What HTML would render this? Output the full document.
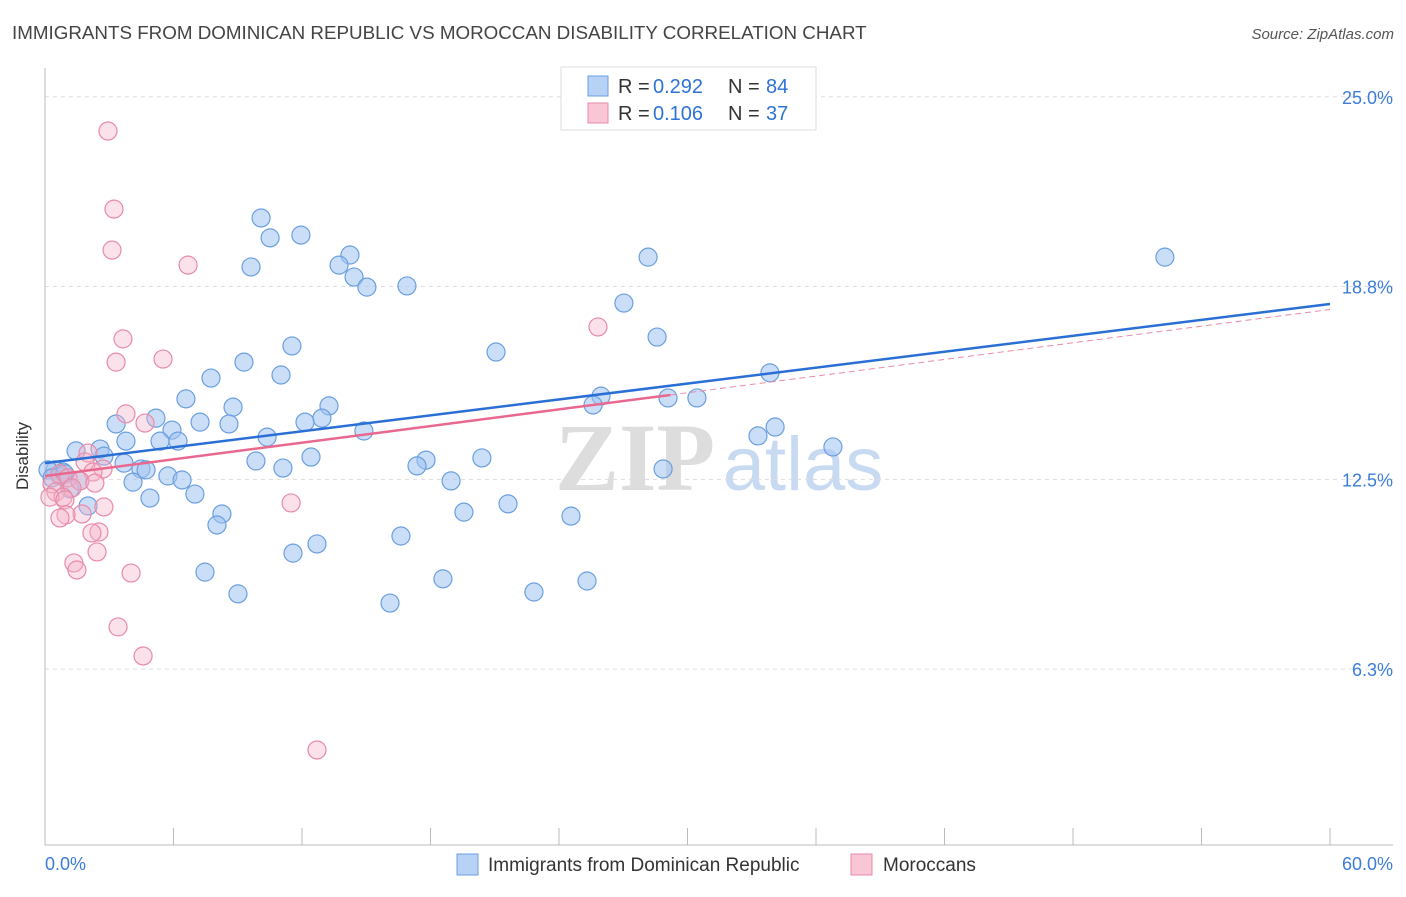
<!DOCTYPE html>
<html><head><meta charset="utf-8"><style>
body{margin:0;background:#fff;font-family:"Liberation Sans",sans-serif}
</style></head><body>
<svg id="c" width="1406" height="892" xmlns="http://www.w3.org/2000/svg">
<text x="12" y="39" font-size="18.8" fill="#444">IMMIGRANTS FROM DOMINICAN REPUBLIC VS MOROCCAN DISABILITY CORRELATION CHART</text>
<text x="1394" y="39" font-size="15" fill="#555" font-style="italic" text-anchor="end">Source: ZipAtlas.com</text>
<text x="28" y="456" font-size="17" fill="#333" text-anchor="middle" transform="rotate(-90 28 456)">Disability</text>
<g><text x="635" y="490" font-size="96" fill="#ddd" font-family="Liberation Serif" text-anchor="middle" font-weight="bold">ZIP</text><text x="803" y="490" font-size="76" fill="#c8daf2" text-anchor="middle">atlas</text></g>
<g id="grid"></g><g id="marks"></g><g id="lines"></g>
<g>
<rect x="561" y="67" width="255" height="63" fill="#fff" stroke="#ddd"/>
<rect x="588" y="76" width="20" height="20" fill="#b8d2f5" stroke="#6a9fe0"/>
<text x="618" y="93" font-size="20" fill="#333">R =</text><text x="653" y="93" font-size="20" fill="#2f72d6">0.292</text>
<text x="728" y="93" font-size="20" fill="#333">N =</text><text x="766" y="93" font-size="20" fill="#2f72d6">84</text>
<rect x="588" y="103" width="20" height="20" fill="#f8c6d5" stroke="#e88aa8"/>
<text x="618" y="120" font-size="20" fill="#333">R =</text><text x="653" y="120" font-size="20" fill="#2f72d6">0.106</text>
<text x="728" y="120" font-size="20" fill="#333">N =</text><text x="766" y="120" font-size="20" fill="#2f72d6">37</text>
</g>
<g>
<rect x="457" y="854" width="21" height="21" fill="#b8d2f5" stroke="#6a9fe0"/>
<text x="488" y="871" font-size="19" fill="#333">Immigrants from Dominican Republic</text>
<rect x="851" y="854" width="21" height="21" fill="#f8c6d5" stroke="#e88aa8"/>
<text x="883" y="871" font-size="19" fill="#333">Moroccans</text>
</g>
</svg>
<script>
const yTicks=[25,18.8,12.5,6.3];
const yTickLabels=["25.0%","18.8%","12.5%","6.3%"];
const xTicks=[0,6,12,18,24,30,36,42,48,54,60];
const xEndLabels=["0.0%","60.0%"];
const blueX=[35.39,52.29,28.16,10.09,10.51,11.95,14.24,13.73,9.62,14.43,15.03,16.90,27.03,28.58,11.53,21.06,9.29,11.02,7.75,33.85,6.58,25.96,25.59,29.09,30.44,8.78,13.26,5.18,12.93,12.14,7.24,8.59,3.32,5.93,14.89,34.09,33.29,10.37,3.78,5.37,6.21,36.79,1.45,2.57,2.75,12.42,9.85,17.79,20.40,3.69,17.37,0.47,0.84,4.48,4.72,11.11,28.86,5.74,6.40,4.11,18.96,1.63,1.17,7.00,4.90,2.01,21.62,19.56,24.56,8.26,8.03,16.62,12.70,11.58,7.47,18.58,25.31,9.01,22.83,16.11,0.14,0.70,0.33,0.93];
const blueY=[24.80,19.76,19.76,21.04,20.39,20.48,19.83,19.50,19.44,19.11,18.78,18.82,18.26,17.15,16.86,16.66,16.33,15.91,15.81,15.98,15.13,15.22,14.93,15.16,15.16,14.86,14.90,14.50,14.50,14.37,14.37,14.31,14.31,14.11,14.08,14.21,13.92,13.88,13.75,13.75,13.75,13.56,13.43,13.49,13.26,13.23,13.10,13.13,13.20,13.03,12.94,12.81,12.74,12.84,12.81,12.87,12.84,12.61,12.48,12.41,12.45,12.45,12.19,12.02,11.89,11.63,11.70,11.43,11.30,11.37,11.01,10.65,10.39,10.09,9.47,9.25,9.18,8.76,8.82,8.46,12.81,12.61,12.55,12.68];
const pinkX=[2.94,3.22,3.13,6.68,25.82,3.64,5.51,3.32,3.78,4.67,2.01,1.87,2.71,2.24,0.70,1.07,1.63,2.33,0.33,1.26,0.51,0.84,0.23,0.93,2.75,11.49,1.73,0.98,0.70,2.52,2.19,2.43,1.35,1.49,4.02,3.41,4.58,12.70];
const pinkY=[23.88,21.33,19.99,19.50,17.48,17.09,16.43,16.33,14.64,14.34,13.36,13.07,12.84,12.74,12.68,12.55,12.45,12.38,12.35,12.22,12.09,11.92,11.92,11.83,11.60,11.73,11.37,11.34,11.24,10.78,10.75,10.13,9.77,9.54,9.44,7.68,6.73,3.66];
const blueTrend=[13.03,18.23];
const pinkTrend=[12.61,18.05];
const pinkSolidEnd=29.2;
const NS="http://www.w3.org/2000/svg";
const X=v=>45+v/60*1285, Y=v=>862-v*30.61;
function mk(t,a,p){const e=document.createElementNS(NS,t);for(const k in a)e.setAttribute(k,a[k]);p.appendChild(e);return e;}
const g=document.getElementById('grid'),m=document.getElementById('marks'),l=document.getElementById('lines');
yTicks.forEach((t,i)=>{const ln=mk('line',{x1:45,x2:1393,y1:Y(t),y2:Y(t),stroke:'#ddd','stroke-dasharray':'4 4'},g);

const tx=mk('text',{x:1393,y:Y(t)+7,'font-size':18,fill:'#3b7dd8','text-anchor':'end'},g);tx.textContent=yTickLabels[i];
});
const ax=mk('line',{x1:45,x2:45,y1:68,y2:845,stroke:'#bbb'},g);
const bx=mk('line',{x1:45,x2:1393,y1:845,y2:845,stroke:'#bbb'},g);
xTicks.forEach(t=>{const tk=mk('line',{x1:X(t),x2:X(t),y1:828,y2:845,stroke:'#bbb'},g);});
[[0,'start',45],[60,'end',1393]].forEach((d,i)=>{const tx=mk('text',{x:d[2],y:870,'font-size':18,fill:'#3b7dd8','text-anchor':d[1]},g);tx.textContent=xEndLabels[i];
});
blueX.forEach((v,i)=>{const c=mk('circle',{cx:X(v),cy:Y(blueY[i]),r:9,fill:'rgba(160,195,240,0.55)',stroke:'#6a9fe0','stroke-width':1.2},m);
});
pinkX.forEach((v,i)=>{const c=mk('circle',{cx:X(v),cy:Y(pinkY[i]),r:9,fill:'rgba(245,180,200,0.4)',stroke:'#e88aa8','stroke-width':1.2},m);
});
const pAt=x=>pinkTrend[0]+(pinkTrend[1]-pinkTrend[0])*x/60;
const pd=mk('line',{x1:X(pinkSolidEnd),y1:Y(pAt(pinkSolidEnd)),x2:X(60),y2:Y(pinkTrend[1]),stroke:'#e88aa8','stroke-dasharray':'6 4','stroke-width':1},l);

const bl=mk('line',{x1:X(0),y1:Y(blueTrend[0]),x2:X(60),y2:Y(blueTrend[1]),stroke:'#2a6fd6','stroke-width':2.5},l);

const pl=mk('line',{x1:X(0),y1:Y(pinkTrend[0]),x2:X(pinkSolidEnd),y2:Y(pAt(pinkSolidEnd)),stroke:'#e8688f','stroke-width':2.5},l);

</script>
</body></html>
